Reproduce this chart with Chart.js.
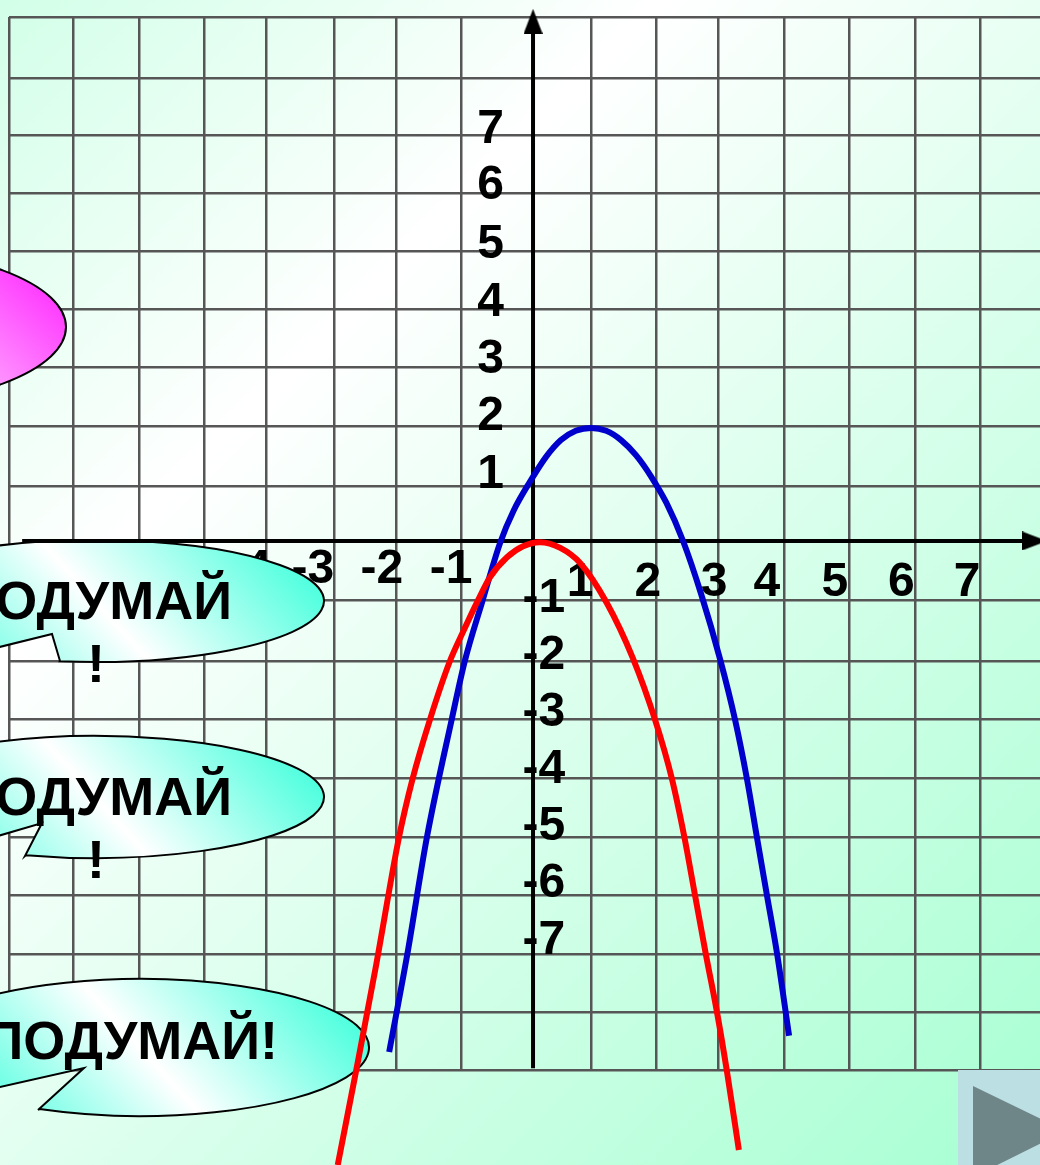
<!DOCTYPE html>
<html>
<head>
<meta charset="utf-8">
<title>Parabolas</title>
<script src="https://cdn.jsdelivr.net/npm/chart.js@4/dist/chart.umd.min.js"></script>
<style>
  html, body { margin: 0; padding: 0; }
  body {
    width: 1040px;
    height: 1165px;
    overflow: hidden;
    background: linear-gradient(135deg, #d2ffe8 0%, #ffffff 30%, #a6ffd2 100%);
  }
  canvas { display: block; }
</style>
</head>
<body>
<canvas id="chart" width="1040" height="1165"></canvas>
<script>
// values, in graph units
const blueX = [-2.32, -2.03, -1.71, -1.31, -1.10, -0.82, -0.53, -0.31, -0.05, 0.21, 0.45, 0.69, 0.94, 1.18, 1.42, 1.66, 1.90, 2.15, 2.42, 2.71, 3.02, 3.26, 3.45, 3.61, 3.77, 3.94, 4.13]
const blueY = [-8.81, -7.14, -5.10, -3.07, -2.07, -1.05, -0.03, 0.53, 1.02, 1.45, 1.74, 1.90, 1.95, 1.90, 1.74, 1.48, 1.12, 0.66, 0, -0.91, -2.05, -3.09, -4.10, -5.10, -6.09, -7.14, -8.53]
const redX = [-3.15, -2.82, -2.53, -2.16, -1.94, -1.66, -1.34, -1.13, -0.90, -0.69, -0.42, -0.16, 0.11, 0.44, 0.76, 1.19, 1.61, 1.97, 2.24, 2.44, 2.61, 2.79, 2.97, 3.13, 3.32]
const redY = [-10.76, -8.95, -7.31, -5.10, -4.09, -3.07, -2.07, -1.57, -1.05, -0.62, -0.28, -0.09, -0.02, -0.12, -0.38, -1.07, -2.02, -3.09, -4.10, -5.10, -6.09, -7.14, -8.14, -9.16, -10.50]

// the drawn grid is hand made and a bit uneven
const gridX = [-8.45, -7.42, -6.35, -5.31, -4.31, -3.21, -2.21, -1.16, 0.94, 1.98, 2.98, 4.06, 5.10, 6.16, 7.21]
const gridY = [9.03, 7.98, 7.00, 6.00, 5.00, 4.00, 3.00, 1.98, 0.95, -1.03, -2.07, -3.07, -4.09, -5.10, -6.10, -7.12, -8.12, -9.12]

const xTicksNeg = [-4.57, -3.55, -2.44, -1.32]
const xLabelsNeg = ['-4', '-3', '-2', '-1']
const xTicksPos = [0.76, 1.85, 2.92, 3.77, 4.87, 5.94, 7.00]
const xLabelsPos = ['1', '2', '3', '4', '5', '6', '7']
const yTicksPos = [7.09, 6.12, 5.10, 4.10, 3.12, 2.14, 1.14]
const yLabelsPos = ['7', '6', '5', '4', '3', '2', '1']
const yTicksNeg = [-1.00, -1.98, -2.96, -3.94, -4.93, -5.91, -6.89]
const yLabelsNeg = ['-1', '-2', '-3', '-4', '-5', '-6', '-7']

const xMin = -8.452, xMax = 8.177
const yMin = -9.121, yMax = 9.034

const labelFont = { family: '"Liberation Sans"', size: 48, weight: 'bold' }

const pairs = (xs, ys) => xs.map((x, i) => ({ x, y: ys[i] }))

const gridScale = (axis, values) => ({
  type: 'linear',
  min: axis === 'x' ? xMin : yMin,
  max: axis === 'x' ? xMax : yMax,
  afterBuildTicks: s => { s.ticks = values.map(value => ({ value })) },
  grid: { color: '#565656', lineWidth: 2.5, drawTicks: false },
  border: { display: false },
  ticks: { display: false }
})

const labelScale = (axis, position, values, labels) => ({
  axis,
  type: 'linear',
  position,
  min: axis === 'x' ? xMin : yMin,
  max: axis === 'x' ? xMax : yMax,
  afterBuildTicks: s => { s.ticks = values.map(value => ({ value })) },
  // labels must not push the chart area in
  afterFit: s => {
    s.paddingLeft = s.paddingRight = s.paddingTop = s.paddingBottom = 0
  },
  grid: { display: false },
  border: { display: false },
  ticks: {
    color: '#000',
    font: labelFont,
    padding: 0,
    autoSkip: false,
    maxRotation: 0,
    callback: (value) => labels[values.indexOf(value)]
  }
})

const arrow = document.createElement('canvas')
arrow.width = 19
arrow.height = 25
const actx = arrow.getContext('2d')
actx.beginPath()
actx.moveTo(9.5, 0)
actx.lineTo(19, 25)
actx.lineTo(0, 25)
actx.closePath()
actx.fill()

const callouts = [
  { cx: 95, cy: 601, rx: 229, ry: 61, a: [60, 661], n: [52, 634], t: [-134, 680] },
  { cx: 95, cy: 797, rx: 229, ry: 61, a: [25, 856], n: [42, 823], t: [-134, 875] },
  { cx: 140, cy: 1047.5, rx: 229, ry: 68.5, a: [38, 1110], n: [84, 1068], t: [-89, 1107] }
]

const calloutTexts = [
  { text: 'ПОДУМАЙ', x: 232, y: 619, align: 'right' },
  { text: '!', x: 96, y: 682, align: 'center' },
  { text: 'ПОДУМАЙ', x: 232, y: 815, align: 'right' },
  { text: '!', x: 96, y: 878, align: 'center' },
  { text: 'ПОДУМАЙ!', x: 278, y: 1059, align: 'right' }
]

const decorations = {
  id: 'decorations',
  beforeDatasetsDraw(chart) {
    const ctx = chart.ctx
    ctx.save()

    // pink bubble, mostly off the slide
    const pink = ctx.createLinearGradient(-40, 400, 60, 290)
    pink.addColorStop(0, '#ffb4ff')
    pink.addColorStop(1, '#ff33ff')
    ctx.beginPath()
    ctx.ellipse(-150, 327, 216, 80, 0, 0, Math.PI * 2)
    ctx.fillStyle = pink
    ctx.fill()
    ctx.lineWidth = 2
    ctx.strokeStyle = '#000'
    ctx.stroke()

    callouts.forEach(c => {
      const start = Math.atan2((c.a[1] - c.cy) / c.ry, (c.a[0] - c.cx) / c.rx)
      const g = ctx.createLinearGradient(c.cx - 130, c.cy + 117, c.cx + 140, c.cy - 127)
      g.addColorStop(0, '#40ffdc')
      g.addColorStop(0.48, '#ffffff')
      g.addColorStop(1, '#40ffdc')
      ctx.beginPath()
      ctx.moveTo(c.a[0], c.a[1])
      ctx.ellipse(c.cx, c.cy, c.rx, c.ry, 0, start, Math.PI, true)
      ctx.lineTo(c.t[0], c.t[1])
      ctx.lineTo(c.n[0], c.n[1])
      ctx.closePath()
      ctx.fillStyle = g
      ctx.fill()
      ctx.lineWidth = 2
      ctx.strokeStyle = '#000'
      ctx.stroke()
    })

    ctx.fillStyle = '#000'
    ctx.font = 'bold 54px "Liberation Sans"'
    ctx.textBaseline = 'alphabetic'
    calloutTexts.forEach(t => {
      ctx.textAlign = t.align
      ctx.fillText(t.text, t.x, t.y)
    })

    // next slide button
    ctx.fillStyle = '#bbdfe3'
    ctx.fillRect(958, 1070, 82, 95)
    ctx.fillStyle = '#6f8688'
    ctx.beginPath()
    ctx.moveTo(973, 1086)
    ctx.lineTo(1066, 1131)
    ctx.lineTo(973, 1177)
    ctx.closePath()
    ctx.fill()

    ctx.restore()
  }
}

new Chart(document.getElementById('chart'), {
  type: 'line',
  plugins: [decorations],
  data: {
    datasets: [
      { data: pairs(redX, redY), borderColor: '#ff0000', borderWidth: 6, pointRadius: 0, cubicInterpolationMode: 'monotone', clip: false },
      { data: pairs(blueX, blueY), borderColor: '#0000cc', borderWidth: 6, pointRadius: 0, cubicInterpolationMode: 'monotone', clip: false },
      {
        data: pairs([-8.24, 8.09], [0, 0]),
        borderColor: '#000', borderWidth: 4, tension: 0, clip: false,
        pointStyle: arrow, pointRadius: [0, 12], pointRotation: 90
      },
      {
        data: pairs([0, 0], [-9.09, 8.96]),
        borderColor: '#000', borderWidth: 4, tension: 0, clip: false,
        pointStyle: arrow, pointRadius: [0, 12], pointRotation: 0
      }
    ]
  },
  options: {
    responsive: false,
    animation: false,
    parsing: false,
    layout: { autoPadding: false, padding: { left: 9, top: 17, right: 0, bottom: 95 } },
    plugins: { legend: { display: false }, title: { display: false }, tooltip: { enabled: false } },
    scales: {
      x: gridScale('x', gridX),
      y: gridScale('y', gridY),
      xNeg: labelScale('x', { y: 0.13 }, xTicksNeg, xLabelsNeg),
      xPos: labelScale('x', { y: -0.09 }, xTicksPos, xLabelsPos),
      yPos: labelScale('y', { x: -0.47 }, yTicksPos, yLabelsPos),
      yNeg: labelScale('y', { x: 0.52 }, yTicksNeg, yLabelsNeg)
    }
  }
})
</script>
</body>
</html>
